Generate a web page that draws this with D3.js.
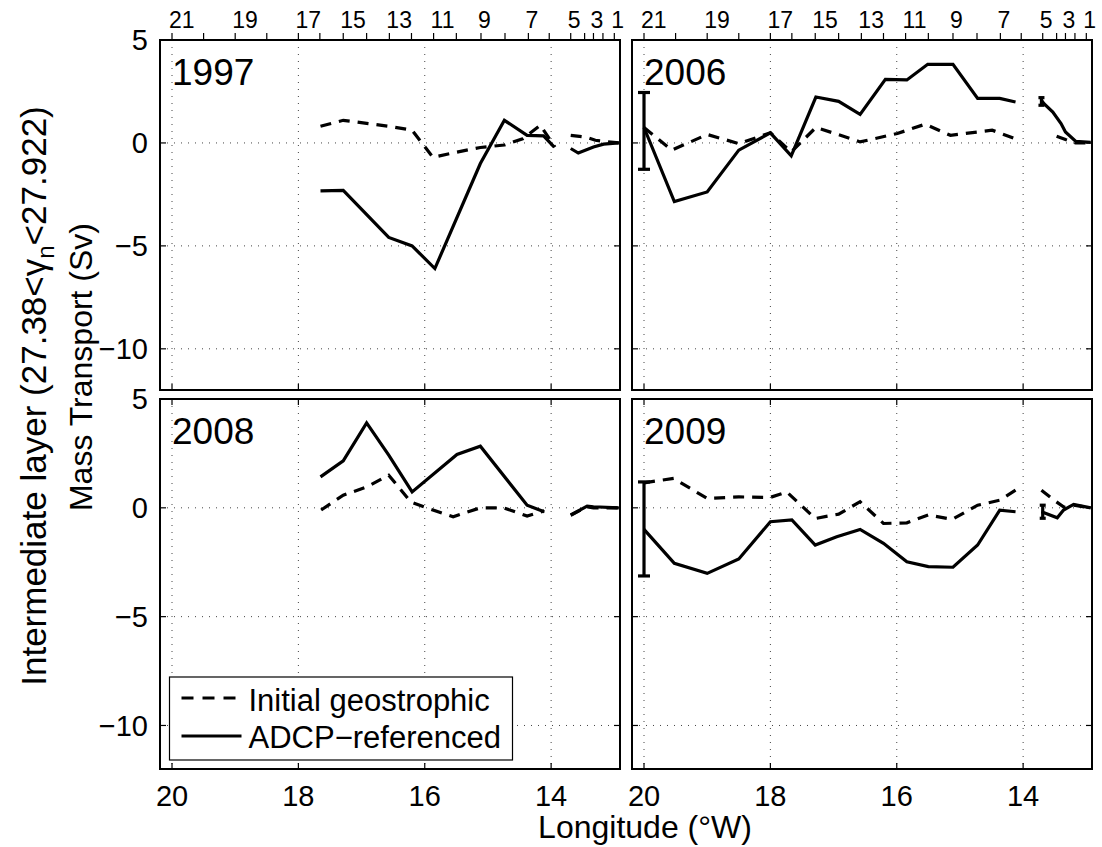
<!DOCTYPE html>
<html lang="en">
<head>
  <meta charset="UTF-8">
  <title>Intermediate layer mass transport</title>
  <script src="https://d3js.org/d3.v7.min.js"></script>
  <style>
    body { margin: 0; background: #fff; }
    svg { display: block; }
    text { font-family: "Liberation Sans", Arial, Helvetica, sans-serif; fill: #000; }
    .grid { stroke: #444; stroke-width: 1; stroke-dasharray: 1 6; }
    .box { fill: none; stroke: #000; stroke-width: 2; }
    .tick { stroke: #000; stroke-width: 1.2; }
    .geo { fill: none; stroke: #000; stroke-width: 3.2; stroke-dasharray: 11 8; }
    .adcp { fill: none; stroke: #000; stroke-width: 3.2; }
    .err { stroke: #000; stroke-width: 3.2; }
  </style>
</head>
<body>
<svg id="chart" width="1102" height="847"></svg>
<script>
// station numbers and their longitudes (top axis)
const stationNum = [21, 20, 19, 18, 17, 16, 15, 14, 13, 12, 11, 10, 9, 8, 7, 6, 5, 4, 3, 2, 1];
const stationLon = [20.0, 19.5, 19.0, 18.5, 18.0, 17.66, 17.29, 16.92, 16.56, 16.21, 15.86,
                    15.5, 15.11, 14.73, 14.36, 14.03, 13.69, 13.47, 13.33, 13.18, 13.0];

const xTicks = [20, 18, 16, 14];
const yTicks = [5, 0, -5, -10];

// [longitude, transport Sv]; null = gap in the line
const geo1997 = [[17.65, 0.81], [17.29, 1.1], [16.92, 0.95], [16.57, 0.81], [16.2, 0.62], [15.87, -0.7],
  [15.5, -0.45], [15.12, -0.22], [14.74, -0.1], [14.45, 0.2], [14.17, 0.86], [13.94, -0.2], null,
  [13.69, 0.37], [13.45, 0.28], [13.3, 0.13], [12.93, 0]];
const adcp1997 = [[17.65, -2.33], [17.29, -2.3], [16.57, -4.59], [16.2, -5.0], [15.84, -6.1], [15.12, -1.0],
  [14.74, 1.1], [14.38, 0.37], [14.12, 0.34], [13.95, -0.2], null,
  [13.69, -0.27], [13.57, -0.49], [13.33, -0.2], [13.17, -0.06], [12.93, 0]];

const geo2006 = [[20.0, 0.75], [19.56, -0.35], [19.0, 0.41], [18.5, -0.03], [18.0, 0.49], [17.67, -0.44],
  [17.28, 0.75], [16.92, 0.4], [16.58, 0.05], [15.99, 0.46], [15.55, 0.91], [15.15, 0.37], [14.49, 0.62],
  [14.09, 0.17], null, [13.47, 0.33], [13.33, 0.17], [13.17, 0.0], [12.93, 0]];
const adcp2006 = [[20.0, 0.75], [19.52, -2.85], [19.0, -2.38], [18.5, -0.35], [18.0, 0.49], [17.67, -0.63],
  [17.28, 2.23], [16.92, 2.02], [16.58, 1.39], [16.18, 3.09], [15.84, 3.06], [15.51, 3.82], [15.11, 3.82],
  [14.72, 2.16], [14.37, 2.16], [14.12, 1.99], null,
  [13.71, 2.07], [13.67, 1.91], [13.53, 1.5], [13.4, 0.94], [13.33, 0.53], [13.17, 0.08], [12.93, 0.03]];
const err2006 = [[20.0, -1.28, 2.45], [13.71, 1.83, 2.2]];

const geo2008 = [[17.64, -0.1], [17.29, 0.58], [16.92, 0.96], [16.57, 1.5], [16.22, 0.27], [15.97, 0.0],
  [15.55, -0.41], [15.12, 0.0], [14.75, 0.0], [14.38, -0.38], [14.11, -0.14], null,
  [13.69, -0.34], [13.43, 0.05], [13.33, 0.0], [12.93, 0]];
const adcp2008 = [[17.65, 1.42], [17.29, 2.16], [16.92, 3.9], [16.57, 2.42], [16.2, 0.73], [15.49, 2.45],
  [15.12, 2.83], [14.38, 0.12], [14.11, -0.18], null,
  [13.69, -0.33], [13.43, 0.08], [13.33, 0.05], [12.93, 0]];

const geo2009 = [[20.0, 1.15], [19.53, 1.35], [19.0, 0.43], [18.5, 0.5], [18.0, 0.48], [17.74, 0.73],
  [17.29, -0.49], [16.92, -0.29], [16.58, 0.28], [16.21, -0.72], [15.84, -0.69], [15.5, -0.33],
  [15.12, -0.53], [14.72, 0.12], [14.37, 0.35], [14.12, 0.81], null,
  [13.71, 0.81], [13.51, 0.35], [13.35, 0.02], [13.2, 0.12], [12.93, 0]];
const adcp2009 = [[20.0, -0.99], [19.52, -2.55], [19.0, -3.01], [18.5, -2.35], [18.0, -0.64], [17.66, -0.56],
  [17.29, -1.71], [16.95, -1.33], [16.58, -0.99], [16.21, -1.63], [15.84, -2.48], [15.5, -2.7],
  [15.11, -2.73], [14.72, -1.71], [14.37, -0.11], [14.12, -0.18], null,
  [13.71, -0.18], [13.46, -0.46], [13.36, -0.1], [13.2, 0.16], [12.93, 0]];
const err2009 = [[20.0, -3.13, 1.19], [13.69, -0.48, 0.12]];

const panels = [
  { year: "1997", geo: geo1997, adcp: adcp1997, err: [], left: 160, top: 40, h: 350, yLabels: true, stations: true, xLabels: false, legend: false },
  { year: "2006", geo: geo2006, adcp: adcp2006, err: err2006, left: 632, top: 40, h: 350, yLabels: false, stations: true, xLabels: false, legend: false },
  { year: "2008", geo: geo2008, adcp: adcp2008, err: [], left: 160, top: 399, h: 370, yLabels: true, stations: false, xLabels: true, legend: true },
  { year: "2009", geo: geo2009, adcp: adcp2009, err: err2009, left: 632, top: 399, h: 370, yLabels: false, stations: false, xLabels: true, legend: false }
];

const W = 460;
const svg = d3.select("#chart");
const fmt = d3.format("d");

panels.forEach((p, i) => {
  const x = d3.scaleLinear().domain([20.19, 12.91]).range([0, W]);
  const y = d3.scaleLinear().domain([-12, 5]).range([p.h, 0]);
  const g = svg.append("g").attr("transform", `translate(${p.left},${p.top})`);

  g.append("clipPath").attr("id", "clip" + i)
    .append("rect").attr("width", W).attr("height", p.h);

  // dotted grid
  g.selectAll(".gx").data(xTicks).enter().append("line")
    .attr("class", "grid")
    .attr("x1", d => x(d)).attr("x2", d => x(d))
    .attr("y1", 0).attr("y2", p.h);
  g.selectAll(".gy").data(yTicks.filter(d => d < 5)).enter().append("line")
    .attr("class", "grid")
    .attr("x1", 0).attr("x2", W)
    .attr("y1", d => y(d)).attr("y2", d => y(d));

  // inward ticks
  yTicks.forEach(v => {
    g.append("line").attr("class", "tick").attr("x1", 0).attr("x2", 6).attr("y1", y(v)).attr("y2", y(v));
    g.append("line").attr("class", "tick").attr("x1", W - 6).attr("x2", W).attr("y1", y(v)).attr("y2", y(v));
  });
  xTicks.forEach(v => {
    g.append("line").attr("class", "tick").attr("x1", x(v)).attr("x2", x(v)).attr("y1", p.h).attr("y2", p.h - 6);
    if (!p.stations)
      g.append("line").attr("class", "tick").attr("x1", x(v)).attr("x2", x(v)).attr("y1", 0).attr("y2", 6);
  });

  // data lines
  const line = d3.line().defined(d => d !== null).x(d => x(d[0])).y(d => y(d[1]));
  const plot = g.append("g").attr("clip-path", `url(#clip${i})`);
  plot.append("path").datum(p.geo).attr("class", "geo").attr("d", line);
  plot.append("path").datum(p.adcp).attr("class", "adcp").attr("d", line);

  // error bars
  p.err.forEach(e => {
    const cx = x(e[0]);
    const half = e[0] > 19 ? 6 : 3;
    g.append("line").attr("class", "err").attr("x1", cx).attr("x2", cx).attr("y1", y(e[1])).attr("y2", y(e[2]));
    g.append("line").attr("class", "err").attr("x1", cx - half).attr("x2", cx + half).attr("y1", y(e[1])).attr("y2", y(e[1]));
    g.append("line").attr("class", "err").attr("x1", cx - half).attr("x2", cx + half).attr("y1", y(e[2])).attr("y2", y(e[2]));
  });

  g.append("rect").attr("class", "box").attr("width", W).attr("height", p.h);

  // year tag
  g.append("text").attr("x", 12).attr("y", 45).style("font-size", "37px").text(p.year);

  if (p.yLabels) {
    g.selectAll(".yl").data(yTicks).enter().append("text")
      .attr("x", -12).attr("y", d => y(d)).attr("dy", "0.36em")
      .attr("text-anchor", "end").style("font-size", "29px")
      .text(d => fmt(d));
  }
  if (p.xLabels) {
    g.selectAll(".xl").data(xTicks).enter().append("text")
      .attr("x", d => x(d)).attr("y", p.h + 37)
      .attr("text-anchor", "middle").style("font-size", "29px")
      .text(d => d);
  }
  if (p.stations) {
    g.selectAll(".st").data(stationLon).enter().append("line")
      .attr("class", "tick")
      .attr("x1", d => x(d)).attr("x2", d => x(d)).attr("y1", 0).attr("y2", -7);
    g.selectAll(".sl").data(stationNum.filter(n => n % 2 === 1)).enter().append("text")
      .attr("x", n => x(stationLon[stationNum.indexOf(n)]) - 3).attr("y", -12)
      .attr("text-anchor", "start").style("font-size", "23px")
      .text(n => n);
  }
  if (p.legend) {
    const lg = g.append("g").attr("transform", `translate(${9.5},${278})`);
    lg.append("rect").attr("width", 343).attr("height", 83)
      .attr("fill", "#fff").attr("stroke", "#000").attr("stroke-width", 1.2);
    lg.append("line").attr("class", "geo").attr("x1", 12).attr("x2", 72).attr("y1", 21).attr("y2", 21)
      .style("stroke-dasharray", "12 9");
    lg.append("line").attr("class", "adcp").attr("x1", 12).attr("x2", 72).attr("y1", 59).attr("y2", 59);
    lg.append("text").attr("x", 79).attr("y", 34).style("font-size", "31px").text("Initial geostrophic");
    lg.append("text").attr("x", 79).attr("y", 71).style("font-size", "31px").text("ADCP\u2212referenced");
  }
});

// axis titles
svg.append("text").attr("x", 645).attr("y", 838).attr("text-anchor", "middle")
  .style("font-size", "32px").text("Longitude (\u00B0W)");

const yl1 = svg.append("text").attr("transform", "translate(46,396) rotate(-90)")
  .attr("text-anchor", "middle").style("font-size", "35px");
yl1.append("tspan").text("Intermediate layer (27.38<\u03B3");
yl1.append("tspan").attr("dy", 8).style("font-size", "24px").text("n");
yl1.append("tspan").attr("dy", -8).text("<27.922)");

svg.append("text").attr("transform", "translate(92,367) rotate(-90)")
  .attr("text-anchor", "middle").style("font-size", "32px").text("Mass Transport (Sv)");
</script>
</body>
</html>
